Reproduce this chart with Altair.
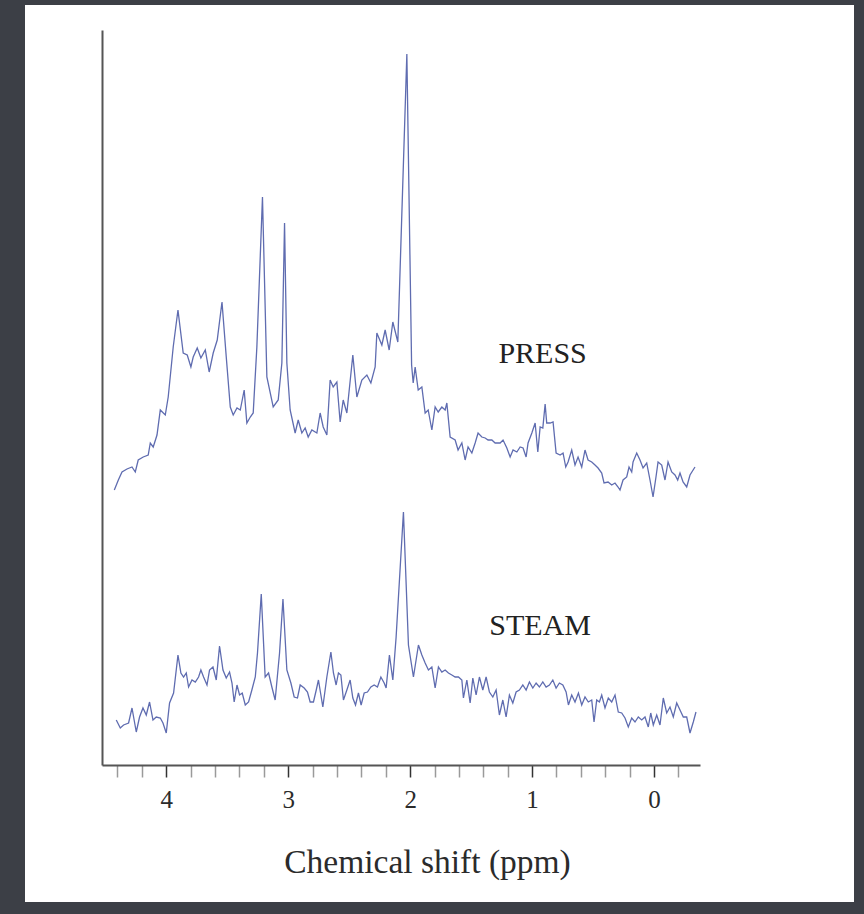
import altair as alt
import pandas as pd

# Chemical shift (ppm) and signal intensity (a.u.) of the two localisation sequences
press_ppm = [
    4.426, 4.393, 4.363, 4.322, 4.281, 4.254, 4.230, 4.189, 4.148, 4.131,
    4.107, 4.076, 4.049, 4.008, 3.984, 3.943, 3.904, 3.861, 3.828, 3.798,
    3.779, 3.746, 3.716, 3.680, 3.648, 3.615, 3.582, 3.543, 3.508, 3.475,
    3.451, 3.420, 3.393, 3.361, 3.339, 3.311, 3.287, 3.257, 3.211, 3.175,
    3.123, 3.082, 3.052, 3.030, 3.011, 2.984, 2.943, 2.918, 2.888, 2.861,
    2.836, 2.806, 2.765, 2.738, 2.713, 2.683, 2.656, 2.631, 2.601, 2.574,
    2.549, 2.519, 2.470, 2.437, 2.396, 2.355, 2.322, 2.287, 2.273, 2.232,
    2.205, 2.172, 2.142, 2.101, 2.027, 1.988, 1.975, 1.959, 1.934, 1.904,
    1.877, 1.852, 1.822, 1.795, 1.770, 1.740, 1.713, 1.699, 1.672, 1.631,
    1.607, 1.576, 1.549, 1.525, 1.494, 1.467, 1.443, 1.412, 1.385, 1.361,
    1.330, 1.303, 1.262, 1.238, 1.207, 1.180, 1.156, 1.125, 1.098, 1.074,
    1.049, 1.033, 1.002, 0.975, 0.953, 0.934, 0.912, 0.893, 0.880, 0.852,
    0.828, 0.803, 0.770, 0.746, 0.724, 0.705, 0.675, 0.648, 0.623, 0.593,
    0.566, 0.541, 0.511, 0.484, 0.459, 0.429, 0.410, 0.377, 0.347, 0.320,
    0.295, 0.279, 0.254, 0.224, 0.205, 0.183, 0.172, 0.142, 0.115, 0.090,
    0.060, 0.033, 0.008, -0.016, -0.033, -0.063, -0.090, -0.115, -0.145, -0.172,
    -0.194, -0.213, -0.238, -0.268, -0.295, -0.336,
]
press_int = [
    275, 285, 293, 296, 298, 293, 305, 308, 310, 322,
    318, 330, 355, 350, 368, 418, 455, 412, 410, 398,
    408, 417, 407, 415, 393, 412, 425, 463, 408, 358,
    350, 357, 355, 375, 342, 348, 352, 418, 568, 388,
    358, 365, 402, 542, 402, 355, 332, 345, 332, 337,
    328, 335, 332, 352, 338, 330, 385, 378, 383, 343,
    365, 352, 410, 368, 385, 390, 382, 398, 432, 420,
    435, 415, 443, 423, 711, 400, 382, 398, 375, 378,
    352, 355, 335, 358, 353, 358, 355, 362, 328, 325,
    315, 322, 305, 318, 312, 322, 332, 328, 327, 325,
    325, 322, 322, 325, 317, 308, 315, 313, 318, 317,
    308, 322, 332, 342, 313, 338, 337, 361, 342, 342,
    343, 312, 310, 312, 298, 303, 315, 300, 308, 298,
    315, 305, 303, 300, 297, 292, 282, 283, 280, 282,
    278, 275, 285, 288, 298, 293, 303, 312, 305, 297,
    302, 285, 268, 288, 303, 300, 285, 303, 293, 290,
    285, 292, 283, 278, 290, 298,
]

steam_ppm = [
    4.410, 4.377, 4.350, 4.309, 4.281, 4.246, 4.219, 4.191, 4.164, 4.137,
    4.109, 4.082, 4.049, 4.027, 4.000, 3.973, 3.940, 3.904, 3.880, 3.858,
    3.836, 3.817, 3.789, 3.762, 3.735, 3.716, 3.694, 3.666, 3.645, 3.617,
    3.590, 3.563, 3.535, 3.508, 3.481, 3.461, 3.443, 3.420, 3.399, 3.377,
    3.352, 3.325, 3.298, 3.270, 3.252, 3.221, 3.189, 3.161, 3.134, 3.107,
    3.071, 3.043, 3.011, 2.978, 2.951, 2.924, 2.902, 2.869, 2.842, 2.820,
    2.793, 2.770, 2.752, 2.732, 2.716, 2.683, 2.650, 2.629, 2.607, 2.588,
    2.568, 2.547, 2.519, 2.492, 2.470, 2.448, 2.424, 2.402, 2.377, 2.350,
    2.322, 2.295, 2.268, 2.240, 2.213, 2.197, 2.170, 2.142, 2.115, 2.055,
    2.014, 1.973, 1.932, 1.904, 1.877, 1.850, 1.822, 1.795, 1.768, 1.740,
    1.713, 1.686, 1.658, 1.631, 1.604, 1.576, 1.563, 1.535, 1.508, 1.486,
    1.459, 1.432, 1.404, 1.377, 1.350, 1.322, 1.295, 1.268, 1.240, 1.213,
    1.186, 1.158, 1.131, 1.104, 1.076, 1.049, 1.022, 0.994, 0.967, 0.940,
    0.912, 0.885, 0.858, 0.830, 0.803, 0.776, 0.748, 0.721, 0.702, 0.675,
    0.648, 0.620, 0.593, 0.566, 0.539, 0.511, 0.492, 0.470, 0.448, 0.429,
    0.402, 0.375, 0.347, 0.320, 0.293, 0.265, 0.238, 0.211, 0.183, 0.156,
    0.129, 0.101, 0.074, 0.047, 0.027, 0.006, -0.022, -0.049, -0.076, -0.104,
    -0.131, -0.158, -0.186, -0.213, -0.240, -0.268, -0.295, -0.322, -0.344,
]
steam_int = [
    45, 37, 40, 42, 57, 33, 48, 57, 50, 63,
    45, 48, 47, 42, 32, 62, 72, 110, 92, 88,
    92, 78, 85, 83, 88, 95, 88, 80, 95, 98,
    85, 119, 95, 87, 93, 82, 63, 80, 70, 72,
    60, 63, 75, 88, 112, 171, 88, 92, 78, 65,
    112, 166, 95, 82, 68, 67, 80, 77, 73, 63,
    63, 75, 85, 70, 58, 88, 113, 92, 80, 92,
    90, 65, 75, 85, 67, 60, 72, 60, 72, 73,
    78, 80, 78, 88, 82, 77, 110, 85, 128, 253,
    120, 88, 120, 110, 102, 95, 98, 77, 98, 93,
    95, 92, 90, 88, 88, 85, 67, 85, 62, 87,
    70, 88, 75, 88, 73, 68, 75, 50, 65, 48,
    70, 62, 73, 75, 80, 75, 83, 77, 82, 78,
    83, 78, 80, 85, 77, 82, 80, 73, 60, 70,
    63, 72, 60, 68, 63, 65, 43, 65, 63, 70,
    57, 67, 63, 70, 53, 52, 47, 38, 47, 43,
    48, 45, 48, 38, 52, 40, 50, 40, 67, 52,
    58, 48, 62, 55, 48, 48, 32, 43, 53,
]

# Sequence names and where they are written
label_names = ["PRESS", "STEAM"]
label_ppm = [0.914, 0.934]
label_int = [402, 130]

# Axis ticks every 0.2 ppm, labelled on whole numbers
tick_values = [round(0.2 * k, 1) for k in range(-1, 23)]

assert len(press_ppm) == len(press_int)
assert len(steam_ppm) == len(steam_int)

spectra = pd.concat([
    pd.DataFrame({"ppm": press_ppm, "intensity": press_int, "sequence": "PRESS"}),
    pd.DataFrame({"ppm": steam_ppm, "intensity": steam_int, "sequence": "STEAM"}),
], ignore_index=True)
labels = pd.DataFrame({"ppm": label_ppm, "intensity": label_int, "name": label_names})

SERIF = "Liberation Serif"
is_major = "abs(datum.value - round(datum.value)) < 0.01"

x_enc = alt.X(
    "ppm:Q",
    scale=alt.Scale(domain=[-0.377, 4.527], reverse=True, nice=False, zero=False),
    axis=alt.Axis(
        values=tick_values,
        tickCount=len(tick_values) + 10,
        labelExpr=f"{is_major} ? format(datum.value, 'd') : ''",
        labelOverlap=False,
        labelFlush=False,
        grid=False,
        zindex=2,
        tickSize=12,
        tickWidth=1.5,
        tickColor={"condition": {"test": is_major, "value": "#333333"}, "value": "#9a9a9a"},
        domainColor="#555555",
        domainWidth=2,
        labelFont=SERIF,
        labelFontSize=25,
        labelColor="#2b2b2b",
        labelPadding=10,
        title="Chemical shift (ppm)",
        titleFont=SERIF,
        titleFontSize=33.5,
        titleFontWeight="normal",
        titleColor="#2b2b2b",
        titleAlign="center",
        titleBaseline="alphabetic",
        titleX=325,
        titleY=107,
    ),
)
y_enc = alt.Y(
    "intensity:Q",
    scale=alt.Scale(domain=[0, 735], nice=False, zero=False),
    axis=alt.Axis(title=None, labels=False, ticks=False, grid=False, zindex=2,
                  domainColor="#555555", domainWidth=2),
)

# White page behind the figure
panel = alt.Chart(pd.DataFrame({"k": [0]})).mark_rect(color="white", clip=False).encode(
    x=alt.value(-77), x2=alt.value(752), y=alt.value(-25), y2=alt.value(872)
)

lines = alt.Chart(spectra).mark_line(color="#5f6cb0", strokeWidth=1.3).encode(
    x=x_enc, y=y_enc, detail="sequence:N"
)

names = alt.Chart(labels).mark_text(
    font=SERIF, fontSize=30, align="center", baseline="alphabetic", color="#222222"
).encode(x="ppm:Q", y="intensity:Q", text="name:N")

chart = alt.layer(panel, lines, names).properties(
    width=598,
    height=735,
    padding={"left": 102, "top": 30, "right": 164, "bottom": 149},
    autosize=alt.AutoSizeParams(type="none"),
).configure(background="#3c3f46").configure_view(stroke=None)

chart.save("out.html", embed_options={"renderer": "svg", "actions": False})
